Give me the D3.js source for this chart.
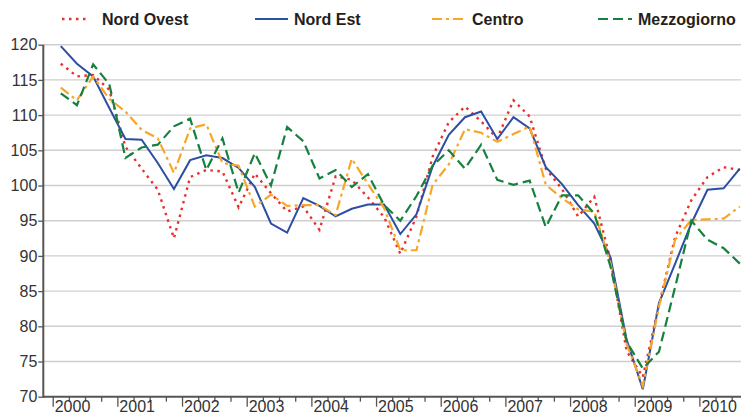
<!DOCTYPE html>
<html>
<head>
<meta charset="utf-8">
<script src="https://cdn.jsdelivr.net/npm/d3@7"></script>
<style>
  body { margin: 0; background: #fff; }
  svg { display: block; font-family: "Liberation Sans", Arial, sans-serif; }
</style>
</head>
<body>
<svg id="chart" width="741" height="416"></svg>
<script>
// quarterly index values, 2000 Q1 .. 2010 Q3
const yearLabels = ["2000","2001","2002","2003","2004","2005","2006","2007","2008","2009","2010"];
const yTicks = [70, 75, 80, 85, 90, 95, 100, 105, 110, 115, 120];

const nordOvest = [117.3,115.5,115.7,113.6, 105.5,102.4,99.4,92.5, 101.2,102.2,102.0,96.9,
  101.7,98.9,96.3,97.0, 93.7,101.3,100.8,98.3, 95.5,90.3,95.6,104.1, 109.0,111.2,109.1,106.7,
  112.1,109.8,102.4,99.5, 95.6,98.4,89.4,76.5, 72.8,83.0,92.7,97.9, 101.2,102.6,102.2];
const nordEst = [119.8,117.3,115.5,111.0, 106.6,106.5,103.2,99.5, 103.6,104.3,103.9,102.5,
  99.8,94.6,93.3,98.2, 97.1,95.6,96.7,97.3, 97.3,93.1,95.9,102.7, 107.2,109.7,110.5,106.6,
  109.7,108.1,102.6,100.2, 97.2,94.6,89.8,78.1, 71.05,83.3,88.9,94.6, 99.4,99.6,102.4];
const centro = [113.9,112.1,115.5,112.3, 110.5,107.9,106.7,101.8, 108.1,108.7,103.2,102.8,
  97.0,98.7,97.1,97.2, 97.2,95.8,103.8,100.2, 96.8,90.8,90.8,100.1, 103.0,108.0,107.5,106.2,
  107.3,108.4,100.1,98.2, 96.6,96.3,89.0,77.5, 71.5,82.8,92.3,95.1, 95.2,95.3,97.0];
const mezzogiorno = [113.1,111.4,117.2,114.4, 103.9,105.4,105.8,108.4, 109.5,102.2,106.7,99.0,
  104.6,100.0,108.3,106.3, 101.0,102.2,99.8,101.6, 97.2,95.0,98.5,102.8, 105.0,102.4,105.8,100.8,
  100.1,100.7,94.1,98.6, 98.6,96.0,88.5,77.8, 74.0,76.4,85.6,95.0, 92.3,91.1,88.9];

const series = [
  { name: "Nord Ovest", values: nordOvest, color: "#e8312f", dash: "2.5,4.5", width: 2.4 },
  { name: "Nord Est", values: nordEst, color: "#2d4fa2", dash: null, width: 2 },
  { name: "Centro", values: centro, color: "#f8a627", dash: "10,4,3,4", width: 2.2 },
  { name: "Mezzogiorno", values: mezzogiorno, color: "#16803e", dash: "10,5", width: 2.2 }
];
const legendX = [62, 255, 432, 598];
const legendW = [26, 33, 34, 34];

const svg = d3.select("#chart");

const x = d3.scaleLinear().domain([2000, 2010]).range([52.7, 699.4]);
const y = d3.scaleLinear().domain([70, 120]).range([396.7, 44.7]);
const plotLeft = 43.3, plotRight = 741;

const t = (i) => 2000 + (i + 0.5) / 4;

// grid
svg.append("g")
  .selectAll("line")
  .data(yTicks.filter(d => d > 70))
  .join("line")
  .attr("x1", plotLeft).attr("x2", plotRight)
  .attr("y1", d => y(d)).attr("y2", d => y(d))
  .attr("stroke", "#cfcfcf")
  .attr("stroke-width", 1.4);

// y axis
const yAxis = svg.append("g")
  .attr("transform", `translate(${plotLeft},0)`)
  .call(d3.axisLeft(y).tickValues(yTicks).tickSize(5).tickPadding(1).tickFormat(d3.format("d")));
yAxis.select(".domain").remove();
yAxis.selectAll(".tick line").attr("stroke", "#555").attr("stroke-width", 1.3);
yAxis.selectAll(".tick text")
  .attr("font-size", 16).attr("fill", "#333")
  .attr("font-family", "Liberation Sans, Arial, sans-serif");

// x axis: quarter ticks + year ticks
const quarterTicks = d3.range(0, 43).map(i => 2000 + i / 4).filter(v => v % 1 !== 0);
svg.append("g")
  .attr("transform", `translate(0,${y(70)})`)
  .call(d3.axisBottom(x).tickValues(quarterTicks).tickSize(5).tickFormat(""))
  .call(g => g.select(".domain").remove())
  .call(g => g.selectAll(".tick line").attr("stroke", "#555").attr("stroke-width", 1.3));

const xAxis = svg.append("g")
  .attr("transform", `translate(0,${y(70)})`)
  .call(d3.axisBottom(x).tickValues(d3.range(2000, 2011)).tickSize(10)
    .tickFormat((d, i) => yearLabels[i]));
xAxis.select(".domain").remove();
xAxis.selectAll(".tick line").attr("stroke", "#555").attr("stroke-width", 1.3);
xAxis.selectAll(".tick text")
  .attr("text-anchor", "start")
  .attr("x", 1.5)
  .attr("y", 15.8)
  .attr("dy", 0)
  .attr("font-size", 16).attr("fill", "#333")
  .attr("font-family", "Liberation Sans, Arial, sans-serif");

// axis lines
svg.append("line")
  .attr("x1", plotLeft).attr("x2", plotLeft)
  .attr("y1", y(120)).attr("y2", y(70) + 1)
  .attr("stroke", "#555").attr("stroke-width", 2);
svg.append("line")
  .attr("x1", plotLeft).attr("x2", plotRight)
  .attr("y1", y(70)).attr("y2", y(70))
  .attr("stroke", "#555").attr("stroke-width", 2);

// series
const line = d3.line().x((d, i) => x(t(i))).y(d => y(d));
const plot = svg.append("g");
series.forEach(s => {
  plot.append("path")
    .datum(s.values)
    .attr("d", line)
    .attr("fill", "none")
    .attr("stroke", s.color)
    .attr("stroke-width", s.width)
    .attr("stroke-dasharray", s.dash)
    .attr("stroke-linejoin", "miter");
});

// legend
const legend = svg.append("g");
series.forEach((s, i) => {
  legend.append("line")
    .attr("x1", legendX[i]).attr("x2", legendX[i] + legendW[i])
    .attr("y1", 19).attr("y2", 19)
    .attr("stroke", s.color)
    .attr("stroke-width", s.width)
    .attr("stroke-dasharray", s.dash);
  legend.append("text")
    .attr("x", legendX[i] + legendW[i] + (i === 0 ? 14 : 6))
    .attr("y", 25)
    .attr("font-size", 16)
    .attr("font-weight", "bold")
    .attr("fill", "#231f20")
    .text(s.name);
});
</script>
</body>
</html>
